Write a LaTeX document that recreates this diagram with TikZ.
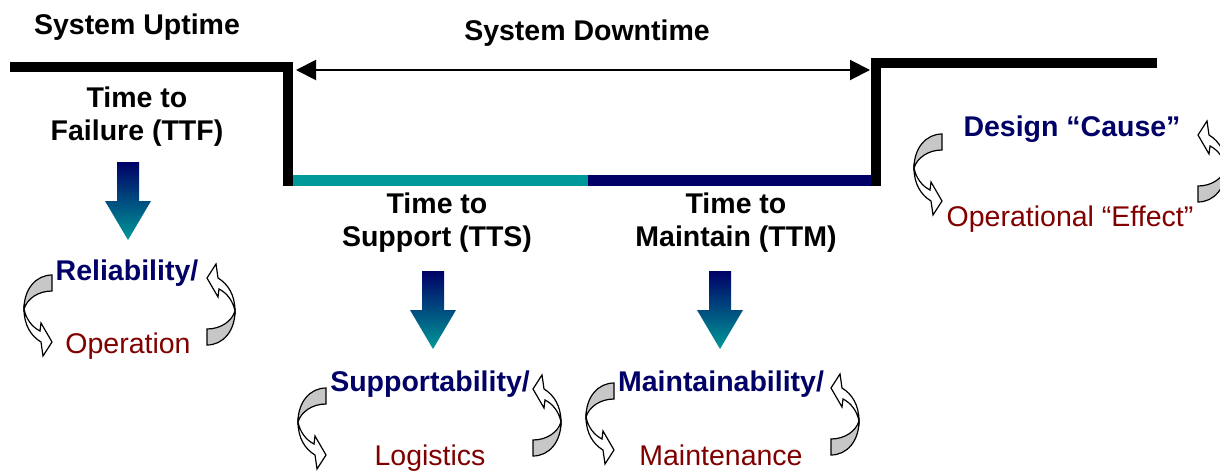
\documentclass[tikz,border=0pt]{standalone}
\usepackage{fontspec}
\setmainfont{Liberation Sans}
\usetikzlibrary{arrows.meta}
\definecolor{navyblue}{RGB}{0,0,102}
\definecolor{tealband}{RGB}{0,153,153}
\definecolor{darkred}{RGB}{128,0,0}
\begin{document}
\begin{tikzpicture}[x=1pt,y=-1pt,
		heading/.style={font=\fontsize{28.5}{33}\selectfont\bfseries, align=center, anchor=base, inner sep=0pt},
		cause/.style={heading, text=navyblue},
		effect/.style={font=\fontsize{28.5}{33}\selectfont, text=darkred, anchor=base, inner sep=0pt},
		timeline/.style={line width=10pt, line join=miter},
		downarrow/.pic={
				\shade[top color=navyblue, bottom color=tealband] (-11,0) -- (11,0) -- (11,39) -- (23,39) -- (0,78) -- (-23,39) -- (-11,39) -- cycle;
			},
		turnarrow/.pic={
				\filldraw[fill=black!22, line width=1.2pt] (0,0) .. controls (-16,0) and (-28,14) .. (-28,34) .. controls (-25,24) and (-14,16) .. (0,16) -- cycle;
				\filldraw[fill=white, line width=1.2pt] (-28,34) .. controls (-28,50) and (-21,61) .. (-11,67) -- (-9,81) -- (0,67) -- (-11,48) -- (-12,56) .. controls (-20,52) and (-26,44) .. (-28,34) -- cycle;
			}
	]
	\useasboundingbox (0,0) rectangle (1220,471);

	% time line
	\coordinate (fail) at (288,186);
	\coordinate (restore) at (876,186);
	\coordinate (split) at (588,180.5);
	\coordinate (dstart) at (296,70);
	\coordinate (dend) at (870,70);
	\draw[timeline] (10,67) -| (fail);
	\draw[timeline] (restore) |- (1157,63);
	\draw[line width=11pt, tealband] (293,180.5) -- (split);
	\draw[line width=11pt, navyblue] (split) -- (871,180.5);
	\draw[{Triangle[length=20pt,width=20pt]}-{Triangle[length=20pt,width=20pt]}, line width=2pt] (dstart) -- (dend);

	\node[heading] (uptime) at (137,34) {System Uptime};
	\node[heading] (downtime) at (587,40) {System Downtime};
	\node[heading] (ttf) at (137,140) {Time to\\Failure (TTF)};
	\node[heading] (tts) at (437,246) {Time to\\Support (TTS)};
	\node[heading] (ttm) at (736,246) {Time to\\Maintain (TTM)};

	\pic at (128,162) {downarrow};
	\pic at (433,271) {downarrow};
	\pic at (720,271) {downarrow};

	\node[cause] (rel) at (127,280) {Reliability/};
	\node[effect] (oper) at (128,353) {Operation};
	\node[cause] (supp) at (430,391) {Supportability/};
	\node[effect] (logi) at (430,465) {Logistics};
	\node[cause] (maint) at (721,391) {Maintainability/};
	\node[effect] (mtce) at (721,465) {Maintenance};
	\node[cause] (design) at (1072,136) {Design “Cause”};
	\node[effect] (opeff) at (1070,226) {Operational “Effect”};

	\pic at (52,275) {turnarrow};
	\pic[rotate=180] at (207,345) {turnarrow};
	\pic at (326,388) {turnarrow};
	\pic[rotate=180] at (533,456) {turnarrow};
	\pic at (614,383) {turnarrow};
	\pic[rotate=180] at (831,455) {turnarrow};
	\pic at (942,134) {turnarrow};
	\pic[rotate=180] at (1198,202) {turnarrow};
\end{tikzpicture}
\end{document}
